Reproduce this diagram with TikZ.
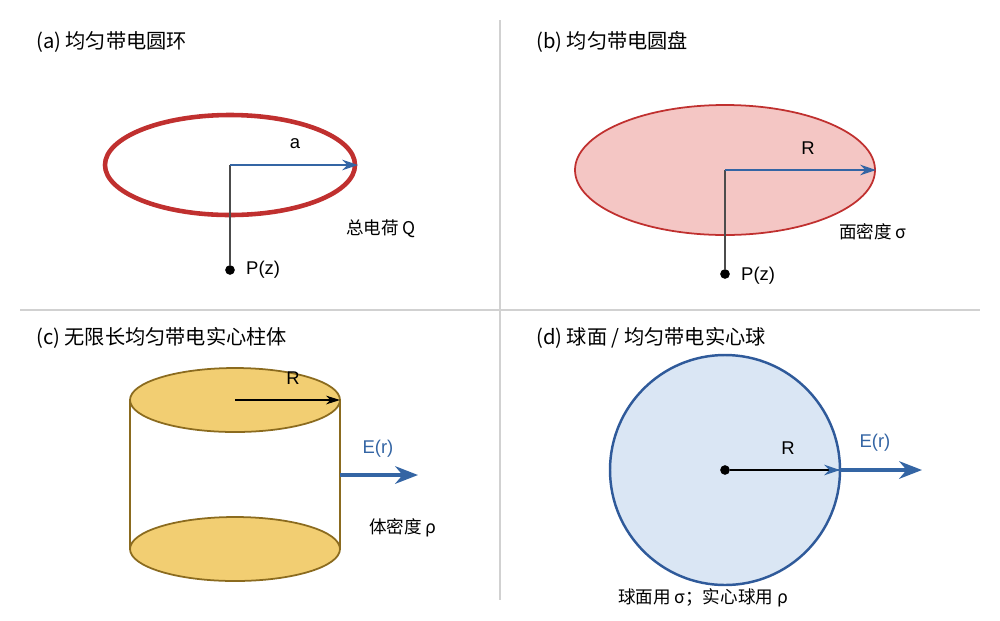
\documentclass[tikz,border=0pt]{standalone}
\usepackage{fontspec}
\setmainfont{Liberation Sans}
\newfontfamily\cjk{Noto Sans CJK SC}
\usetikzlibrary{arrows.meta}
\definecolor{ringred}{HTML}{C0302F}
\definecolor{pinkfill}{HTML}{F4C6C4}
\definecolor{arrblue}{HTML}{3465A4}
\definecolor{gold}{HTML}{F2CE72}
\definecolor{goldline}{HTML}{8B6B1F}
\definecolor{sphfill}{HTML}{DAE6F4}
\definecolor{sphline}{HTML}{2F5A9A}
\begin{document}
\begin{tikzpicture}[x=0.02cm,y=-0.02cm,
  title/.style={anchor=west,font=\cjk\fontsize{11.5pt}{13pt}\selectfont},
  lab/.style={font=\fontsize{10.5pt}{12pt}\selectfont},
  clab/.style={font=\cjk\fontsize{10pt}{12pt}\selectfont},
  divider/.style={draw=black!18,line width=0.6pt},
  radius/.style={-{Stealth[length=9pt,width=6pt]},arrblue,line width=0.8pt},
  field/.style={-{Stealth[length=13pt,width=10pt]},arrblue,line width=2pt},
  stem/.style={draw=black!70,line width=0.7pt},
  dot/.style={circle,fill=black,inner sep=0pt,minimum size=5.5pt}]
\useasboundingbox (0,0) rectangle (1000,620);
\draw[divider] (500,20) -- (500,600);
\draw[divider] (20,310) -- (980,310);
% (a)
\node[title] (ta) at (30,42) {(a) 均匀带电圆环};
\draw[ringred,line width=2.6pt] (230,165) ellipse [x radius=125,y radius=50];
\coordinate (ca) at (230,165);
\coordinate (ea) at (358,165);
\node[dot] (pa) at (230,270) {};
\draw[stem] (ca) -- (pa);
\draw[radius] (ca) -- (ea);
\node[lab] (la) at (295,144) {a};
\node[lab,anchor=west] (pza) at (240,270) {P(z)};
\node[clab,anchor=west] (qa) at (340,229) {总电荷 Q};
% (b)
\node[title] (tb) at (530,42) {(b) 均匀带电圆盘};
\draw[ringred,fill=pinkfill,line width=1pt] (725,170) ellipse [x radius=150,y radius=65];
\coordinate (cb) at (725,170);
\coordinate (eb) at (876,170);
\node[dot] (pb) at (725,274) {};
\draw[stem] (cb) -- (pb);
\draw[radius] (cb) -- (eb);
\node[lab] (lb) at (808,148) {R};
\node[lab,anchor=west] (pzb) at (735,276) {P(z)};
\node[clab,anchor=west] (sb) at (833,232) {面密度 σ};
% (c)
\node[title] (tc) at (30,338) {(c) 无限长均匀带电实心柱体};
\draw[goldline,line width=1pt] (130,400) -- (130,549);
\draw[goldline,line width=1pt] (340,400) -- (340,549);
\draw[goldline,fill=gold,line width=1pt] (235,549) ellipse [x radius=105,y radius=32];
\draw[goldline,fill=gold,line width=1pt] (235,400) ellipse [x radius=105,y radius=32];
\coordinate (cc) at (235,400);
\coordinate (ec) at (340,400);
\draw[-{Stealth[length=8pt,width=5pt]},black,line width=0.6pt] (cc) -- (ec);
\node[lab] (lc) at (293,378) {R};
\coordinate (fc0) at (340,475);
\coordinate (fc1) at (418,475);
\draw[field] (fc0) -- (fc1);
\node[lab,text=arrblue] (erc) at (378,449) {E(r)};
\node[clab,anchor=west] (rc) at (363,528) {体密度 ρ};
% (d)
\node[title] (td) at (530,338) {(d) 球面 / 均匀带电实心球};
\draw[sphline,fill=sphfill,line width=1.4pt] (725,470) ellipse [x radius=115,y radius=115];
\node[dot] (cd) at (725,470) {};
\coordinate (ed) at (840,470);
\coordinate (fd) at (922,470);
\draw[black,line width=0.6pt] (cd) -- (ed);
\draw[radius,line width=0.6pt,shorten <=100] (cd) -- (ed);
\draw[field] (ed) -- (fd);
\node[lab] (ld) at (788,448) {R};
\node[lab,text=arrblue] (erd) at (875,443) {E(r)};
\node[clab] (capd) at (703,598) {球面用 σ；实心球用 ρ};
\end{tikzpicture}
\end{document}
